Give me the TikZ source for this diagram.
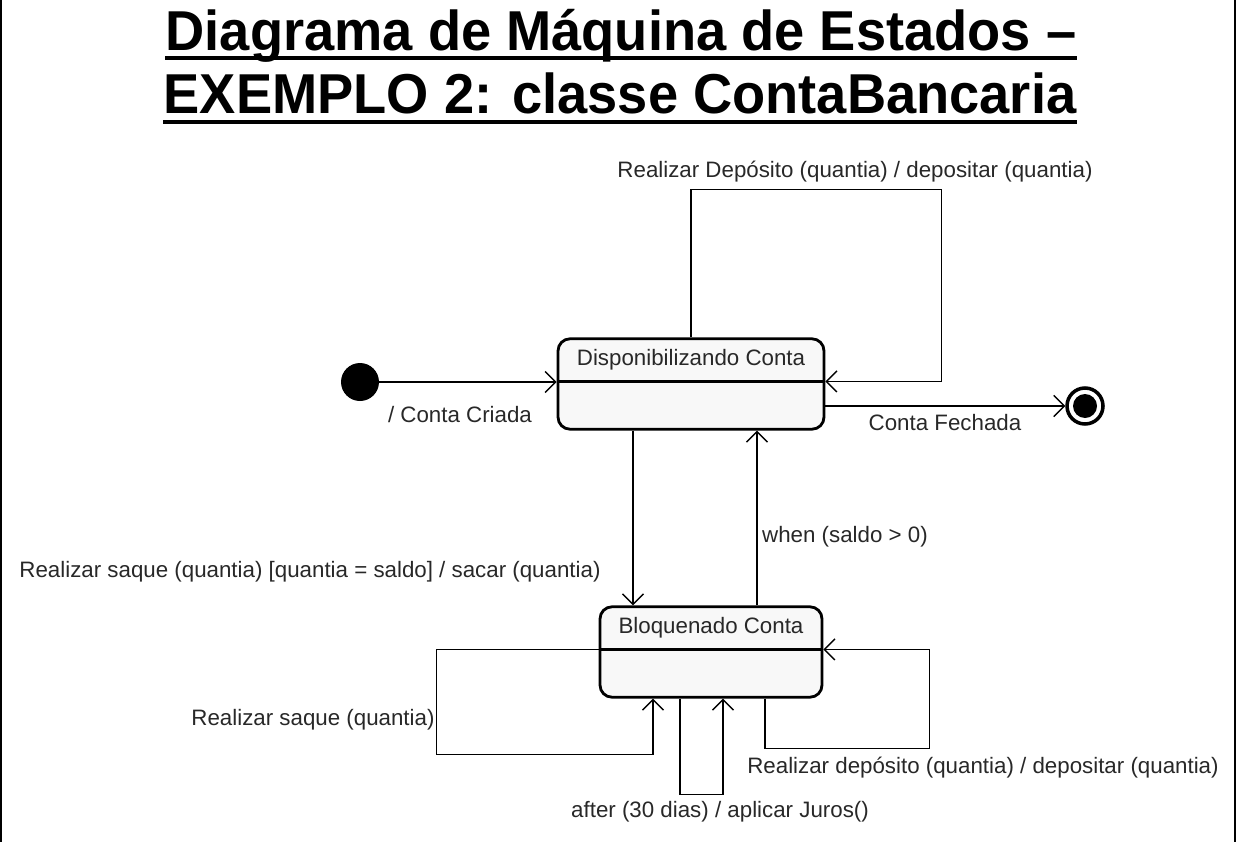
\documentclass[tikz,border=0pt]{standalone}
\usepackage{fontspec}
\setmainfont{Liberation Sans}
\definecolor{boxgray}{RGB}{248, 248, 248}
\definecolor{textgray}{RGB}{40, 40, 40}
\usepackage{tikz}
\usetikzlibrary{shapes.multipart, arrows.meta, positioning, calc}

\begin{document}
\begin{tikzpicture}[x=0.02cm, y=-0.02cm,
  stbox/.style={rectangle split, rectangle split parts=2, draw, line width=1.6pt,
    rounded corners=0.24cm, fill=boxgray, inner ysep=0.19cm,
    rectangle split empty part height=0.52cm,
    font=\fontsize{12.7}{14}\selectfont, text=textgray},
  trans/.style={-{Straight Barb[length=6pt, width=12pt]}, line width=0.8pt},
  lbl/.style={font=\fontsize{12.7}{14}\selectfont, text=textgray, inner sep=0pt},
  ttl/.style={font=\fontsize{32}{36}\selectfont\bfseries, anchor=base, inner sep=0pt}]
  \useasboundingbox (0, 0) rectangle (1237, 842);
  \draw[line width=1.2pt] (1, 0) -- (1, 842);
  \draw[line width=1.2pt] (1235, 0) -- (1235, 842);

  \node[ttl] (title1) at (621, 50) {\scalebox{0.965}[1]{Diagrama de Máquina de Estados –}};
  \node[ttl] (title2) at (620, 113) {\scalebox{0.965}[1]{EXEMPLO 2: classe ContaBancaria}};
  \draw[line width=2pt] ($(title1.base west)+(0, 8)$) -- ($(title1.base east)+(0, 8)$);
  \draw[line width=2pt] ($(title2.base west)+(0, 9)$) -- ($(title2.base east)+(0, 9)$);

  \node[stbox, minimum width=5.32cm] (disp) at (691, 384)
    {Disponibilizando Conta \nodepart{two}};
  \node[stbox, minimum width=4.44cm] (bloq) at (711, 652)
    {Bloquenado Conta \nodepart{two}};

  \node[circle, fill=black, minimum size=0.76cm, inner sep=0pt] (init) at (360, 382) {};
  \node[circle, draw, line width=2pt, fill=white, minimum size=0.72cm, inner sep=0pt] (fin) at (1085, 406) {};
  \node[circle, fill=black, minimum size=0.48cm, inner sep=0pt] (finin) at (fin) {};

  \draw[trans] (init) -- (init -| disp.west);
  \draw[trans] (fin -| disp.east) -- (fin);
  \draw[trans] (disp.north) -- ++(0, -148) -| ($(disp.text split east)+(116, 0)$) -- (disp.text split east);
  \draw[trans] ($(disp.south)+(-58, 0)$) coordinate (ds) -- (ds |- bloq.north);
  \draw[trans] ($(bloq.north)+(46, 0)$) coordinate (bn) -- (bn |- disp.south);
  \draw[trans] (bloq.text split west) -- ++(-162, 0) |- ($(bloq.south)+(-58, 56)$) -- ($(bloq.south)+(-58, 0)$);
  \draw[trans] ($(bloq.south)+(-31, 0)$) -- ++(0, 96) -| ($(bloq.south)+(12, 0)$);
  \draw[trans] ($(bloq.south)+(54, 0)$) -- ++(0, 50) -| ($(bloq.text split east)+(106, 0)$) -- (bloq.text split east);

  \node[lbl] (lcriada) at (460, 415) {/ Conta Criada};
  \node[lbl] (lfechada) at (945, 423) {Conta Fechada};
  \node[lbl] (ldepdisp) at (855, 172) {Realizar Depósito (quantia) / depositar (quantia)};
  \node[lbl] (lsaqtot) at (310, 572) {Realizar saque (quantia) [quantia = saldo] / sacar (quantia)};
  \node[lbl] (lwhen) at (845, 537) {when (saldo > 0)};
  \node[lbl] (lsaq) at (313, 720) {Realizar saque (quantia)};
  \node[lbl] (ljuros) at (720, 812) {after (30 dias) / aplicar Juros()};
  \node[lbl] (ldepbloq) at (983, 768) {Realizar depósito (quantia) / depositar (quantia)};
\end{tikzpicture}
\end{document}
